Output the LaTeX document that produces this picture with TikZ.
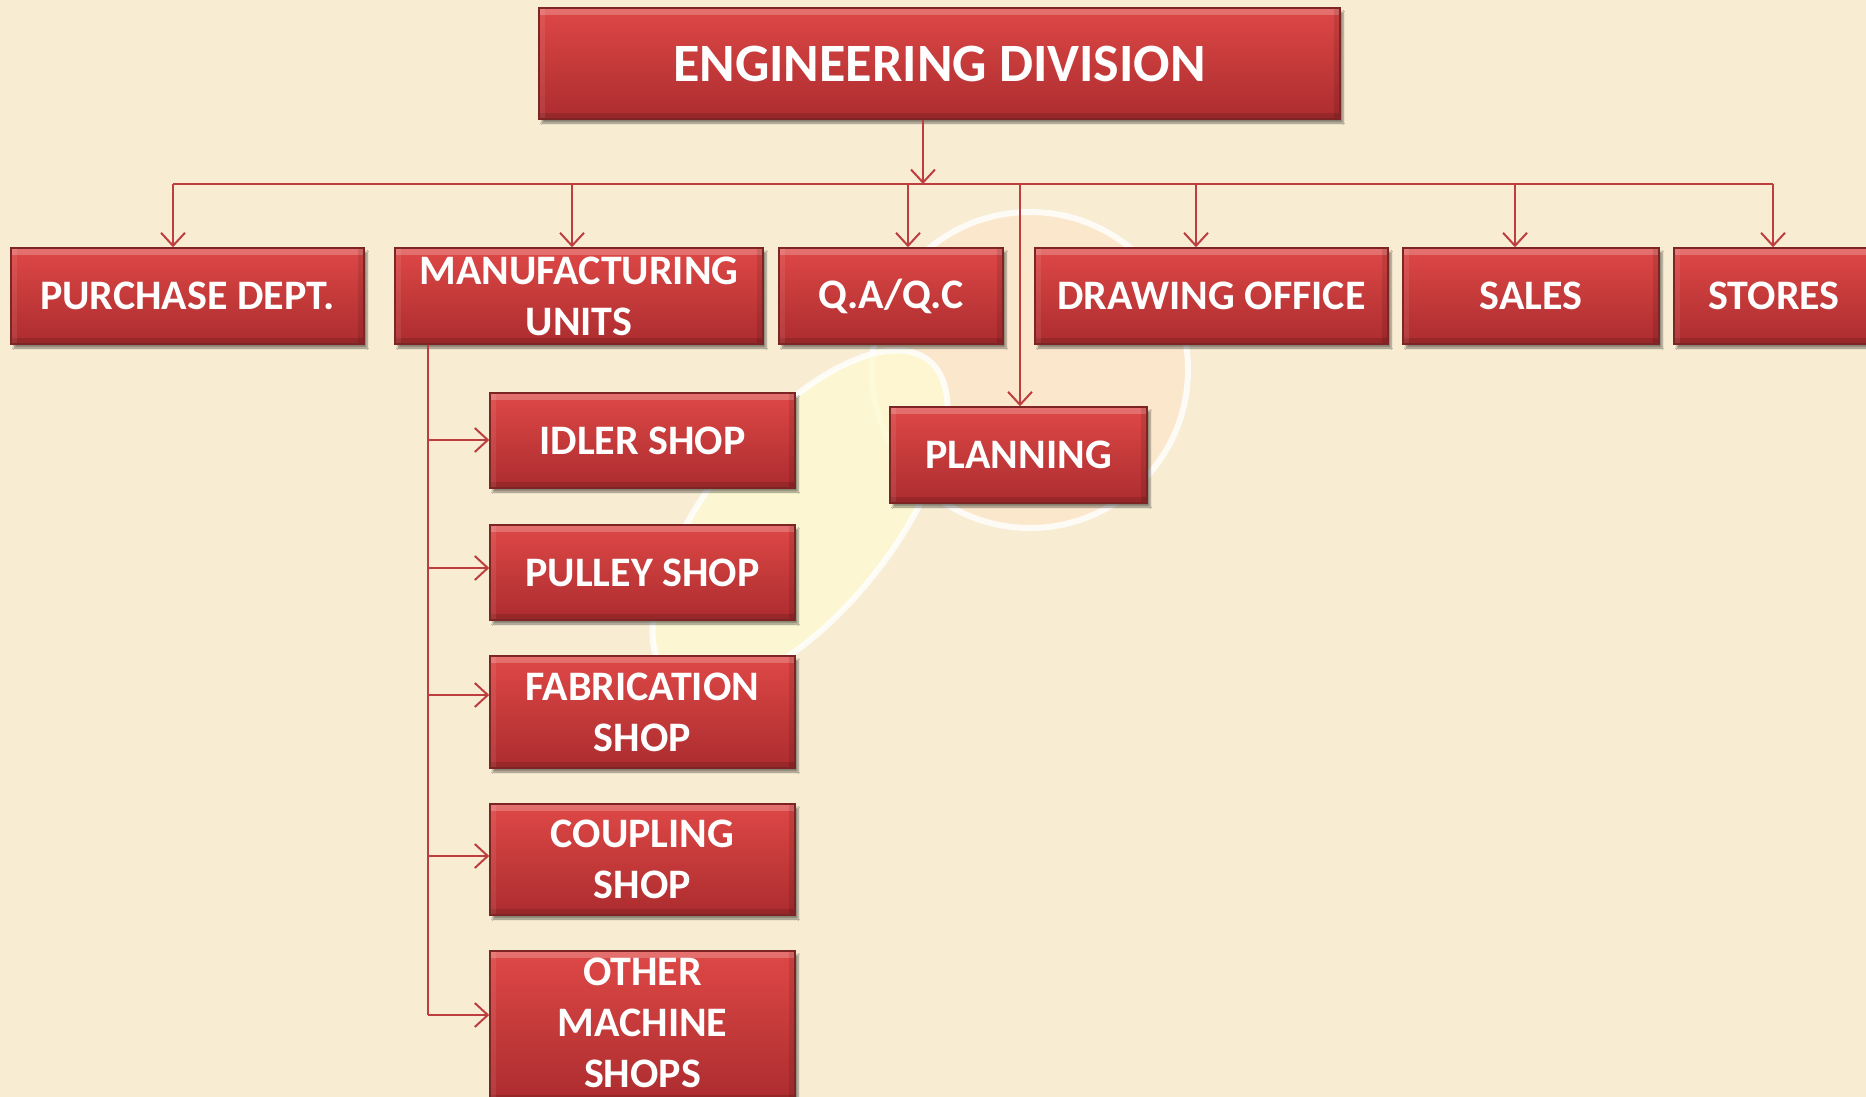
\documentclass[tikz,border=0pt]{standalone}
\usepackage{fontspec}
\setmainfont{Carlito}
\usetikzlibrary{arrows.meta,shadows.blur,positioning}
\definecolor{bg}{RGB}{248,236,211}
\definecolor{peach}{RGB}{252,231,203}
\definecolor{paleyel}{RGB}{254,250,210}
\definecolor{boxtop}{RGB}{222,72,70}
\definecolor{boxbot}{RGB}{172,44,47}
\definecolor{boxedge}{RGB}{125,36,36}
\definecolor{linec}{RGB}{190,62,64}
\tikzset{
  boxtext/.style={text=white, font=\bfseries\fontsize{42}{51}\selectfont, align=center, inner sep=0pt},
  rbox/.style={boxtext, draw=boxedge, line width=1.5pt, top color=boxtop, bottom color=boxbot,
    blur shadow={shadow xshift=3pt, shadow yshift=-4pt, shadow blur steps=6, shadow opacity=45},
    path picture={
      \fill[white,opacity=0.22] (path picture bounding box.north west) rectangle ([yshift=-7pt]path picture bounding box.north east);
      \fill[black,opacity=0.12] (path picture bounding box.south west) rectangle ([yshift=6pt]path picture bounding box.south east);
      \fill[black,opacity=0.10] ([xshift=-6pt]path picture bounding box.south east) rectangle (path picture bounding box.north east);
      \fill[white,opacity=0.08] (path picture bounding box.south west) rectangle ([xshift=6pt]path picture bounding box.north west);
    }},
  conn/.style={draw=linec, line width=2pt},
  arr/.style={conn, -{Straight Barb[length=13pt,width=24pt,line width=2pt]}}
}
\begin{document}
\begin{tikzpicture}[x=1pt,y=-1pt]
\path[use as bounding box, fill=bg] (0,0) rectangle (1866,1097);
\clip (0,0) rectangle (1866,1097);
% faint watermark
\fill[peach, draw=white, line width=6pt, opacity=0.8] (1030,370) circle (158pt);
\begin{scope}[shift={(800,520)}, rotate=51]
\fill[paleyel, draw=white, line width=6pt, opacity=0.8] (0,0) ellipse (205pt and 92pt);
\end{scope}

% nodes
\node[rbox, minimum width=801pt, minimum height=111pt, font=\bfseries\fontsize{54}{60}\selectfont] (top) at (939.5,63.5) {ENGINEERING DIVISION};
\node[rbox, minimum width=353pt, minimum height=96pt] (purchase) at (187.5,296) {PURCHASE DEPT.};
\node[rbox, minimum width=368pt, minimum height=96pt] (mfg) at (579,296) {MANUFACTURING\\UNITS};
\node[rbox, minimum width=224pt, minimum height=96pt] (qa) at (891,296) {Q.A/Q.C};
\node[rbox, minimum width=353pt, minimum height=96pt] (draw) at (1211.5,296) {DRAWING OFFICE};
\node[rbox, minimum width=256pt, minimum height=96pt] (sales) at (1531,296) {SALES};
\node[rbox, minimum width=200pt, minimum height=96pt] (stores) at (1774,296) {STORES};
\node[rbox, minimum width=257pt, minimum height=96pt] (plan) at (1018.5,455) {PLANNING};

\node[rbox, minimum width=305pt, minimum height=95pt] (idler) at (642.5,440.5) {IDLER SHOP};
\node[rbox, minimum width=305pt, minimum height=95pt] (pulley) at (642.5,572.5) {PULLEY SHOP};
\node[rbox, minimum width=305pt, minimum height=112pt] (fab) at (642.5,712) {FABRICATION\\SHOP};
\node[rbox, minimum width=305pt, minimum height=111pt] (coup) at (642.5,859.5) {COUPLING\\SHOP};
\node[rbox, minimum width=305pt, minimum height=150pt] (other) at (642.5,1026) {};
\node[boxtext] (othertext) at ([yshift=3pt]other.center) {OTHER\\MACHINE\\SHOPS};

% bus
\coordinate (J) at (923,184);
\coordinate (bl) at (173,184);
\coordinate (br) at (1773,184);
\coordinate (bpl) at (1020,184);
\draw[conn] (bl) -- (br);
\draw[arr] (top.south -| J) -- (J);
\coordinate (b1) at (173,184);
\coordinate (b2) at (572,184);
\coordinate (b3) at (908,184);
\coordinate (b4) at (1196,184);
\coordinate (b5) at (1515,184);
\coordinate (b6) at (1773,184);
\draw[arr] (b1) -- (b1 |- purchase.north);
\draw[arr] (b2) -- (b2 |- mfg.north);
\draw[arr] (b3) -- (b3 |- qa.north);
\draw[arr] (b4) -- (b4 |- draw.north);
\draw[arr] (b5) -- (b5 |- sales.north);
\draw[arr] (b6) -- (b6 |- stores.north);
\draw[arr] (bpl) -- (bpl |- plan.north);

% manufacturing trunk
\coordinate (t1) at (428,440);
\coordinate (t2) at (428,568);
\coordinate (t3) at (428,695);
\coordinate (t4) at (428,856);
\coordinate (t5) at (428,1015);
\draw[conn] (mfg.south -| t5) -- (t5);
\draw[arr] (t1) -- (t1 -| idler.west);
\draw[arr] (t2) -- (t2 -| pulley.west);
\draw[arr] (t3) -- (t3 -| fab.west);
\draw[arr] (t4) -- (t4 -| coup.west);
\draw[arr] (t5) -- (t5 -| other.west);
\end{tikzpicture}
\end{document}
